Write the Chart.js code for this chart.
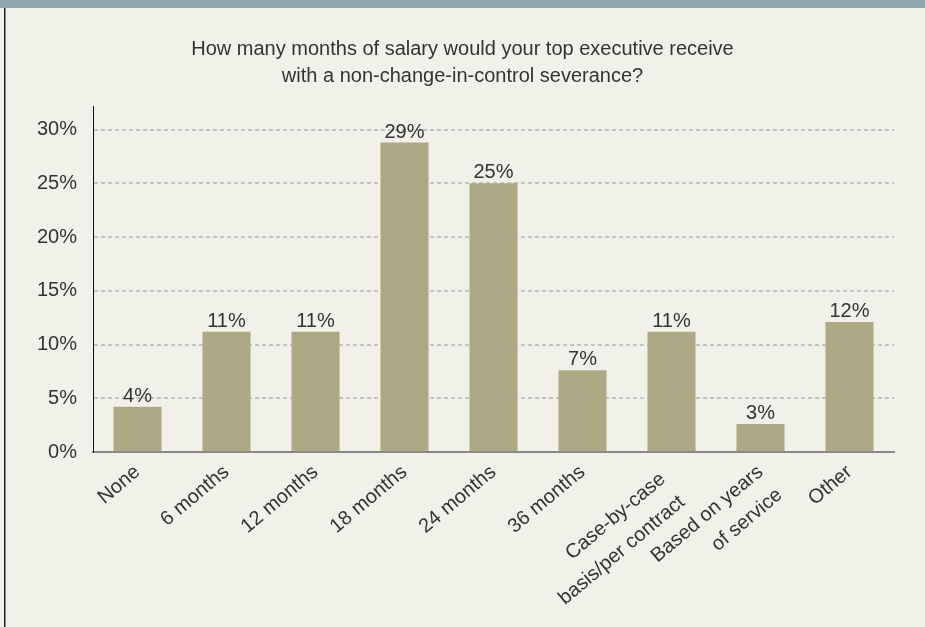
<!DOCTYPE html>
<html>
<head>
<meta charset="utf-8">
<script src="https://cdn.jsdelivr.net/npm/chart.js@4"></script>
<style>
  html, body { margin: 0; padding: 0; background: #f2f1e9; }
  #wrap { position: relative; width: 925px; height: 627px; }
</style>
</head>
<body>
<div id="wrap"><canvas id="severanceChart" width="925" height="627"></canvas></div>
<script>
// Chart data
const categories = ['None', '6 months', '12 months', '18 months', '24 months', '36 months',
  ['Case-by-case  ', 'basis/per contract  '], ['Based on years', 'of service'], 'Other'];
const shares = [4.2, 11.2, 11.2, 28.8, 25.0, 7.6, 11.2, 2.6, 12.1];
const shareLabels = ['4%', '11%', '11%', '29%', '25%', '7%', '11%', '3%', '12%'];
const yTicks = [0, 5, 10, 15, 20, 25, 30];
const titleLines = ['How many months of salary would your top executive receive',
  'with a non-change-in-control severance?'];

const FONT = "'Liberation Sans', Arial, sans-serif";
const TEXT = '#333333';

// Background, top band and left rule
const framePlugin = {
  id: 'frame',
  beforeDraw(chart) {
    const ctx = chart.ctx;
    ctx.save();
    ctx.fillStyle = '#f2f1e9';
    ctx.fillRect(0, 0, chart.width, chart.height);
    ctx.fillStyle = '#8fa5b0';
    ctx.fillRect(0, 0, chart.width, 8);
    ctx.fillStyle = '#222222';
    ctx.fillRect(4, 8, 1.5, chart.height - 8);
    ctx.restore();
  }
};

// Percent labels above each bar
const valueLabelPlugin = {
  id: 'valueLabels',
  afterDatasetsDraw(chart) {
    const ctx = chart.ctx;
    const meta = chart.getDatasetMeta(0);
    ctx.save();
    ctx.font = '20px ' + FONT;
    ctx.fillStyle = TEXT;
    ctx.textAlign = 'center';
    ctx.textBaseline = 'alphabetic';
    meta.data.forEach((bar, i) => {
      ctx.fillText(shareLabels[i], bar.x, bar.y - 5);
    });
    ctx.restore();
  }
};

const ctx = document.getElementById('severanceChart').getContext('2d');

new Chart(ctx, {
  type: 'bar',
  data: {
    labels: categories,
    datasets: [{
      data: shares,
      backgroundColor: '#aea985',
      borderWidth: 0,
      categoryPercentage: 1.0,
      barPercentage: 0.54
    }]
  },
  options: {
    responsive: false,
    animation: false,
    devicePixelRatio: 1,
    layout: { padding: 0 },
    plugins: {
      legend: { display: false },
      tooltip: { enabled: false },
      title: {
        display: true,
        text: titleLines,
        color: TEXT,
        font: { family: FONT, size: 20, weight: 'normal', lineHeight: 1.35 },
        padding: { top: 36, bottom: 16 }
      }
    },
    scales: {
      x: {
        grid: { display: false, drawTicks: false },
        border: { display: true, color: '#888888', width: 2 },
        ticks: {
          color: TEXT,
          font: { family: FONT, size: 20, lineHeight: 1.5 },
          minRotation: 40,
          maxRotation: 40,
          autoSkip: false,
          padding: 6
        },
        afterFit(scale) { scale.height = 175; }
      },
      y: {
        min: 0,
        max: 32.2,
        afterBuildTicks(scale) {
          scale.ticks = yTicks.map(v => ({ value: v }));
        },
        grid: {
          drawTicks: false,
          color: c => (c.tick && c.tick.value === 0) ? 'rgba(0,0,0,0)' : '#c4c4c4',
          lineWidth: 2
        },
        border: { display: true, color: '#111111', width: 1, dash: [4, 3] },
        ticks: {
          color: TEXT,
          font: { family: FONT, size: 20 },
          padding: 16,
          callback: v => v + '%'
        },
        afterFit(scale) { scale.width = 93; }
      },
      // empty right-hand margin so the title stays centred on the whole page
      yRight: {
        axis: 'y',
        position: 'right',
        display: true,
        grid: { display: false, drawTicks: false },
        border: { display: false },
        ticks: { display: false },
        afterFit(scale) { scale.width = 31; }
      }
    }
  },
  plugins: [framePlugin, valueLabelPlugin]
});
</script>
</body>
</html>
